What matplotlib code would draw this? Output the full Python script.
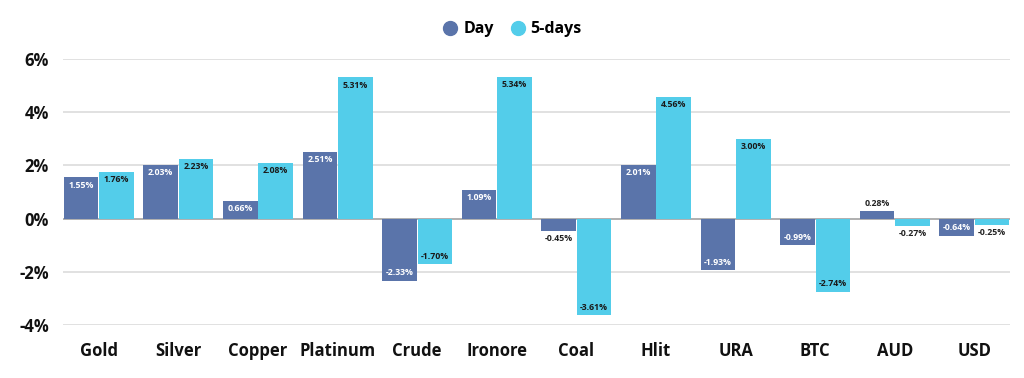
import numpy as np
import matplotlib.pyplot as plt
from matplotlib.lines import Line2D

categories = ["Gold", "Silver", "Copper", "Platinum", "Crude", "Ironore",
              "Coal", "Hlit", "URA", "BTC", "AUD", "USD"]
day = [1.55, 2.03, 0.66, 2.51, -2.33, 1.09, -0.45, 2.01, -1.93, -0.99, 0.28, -0.64]
five_days = [1.76, 2.23, 2.08, 5.31, -1.70, 5.34, -3.61, 4.56, 3.00, -2.74, -0.27, -0.25]
yticks = [-4, -2, 0, 2, 4, 6]

c_day = "#5a74aa"
c_five = "#53cdea"
font = "Open Sans"

fig = plt.figure(figsize=(10.24, 3.78), dpi=100)
ax = fig.add_axes([0.0615, 0.14, 0.925, 0.704])

x = np.arange(len(categories))
w = 0.435
off = 0.222

b1 = ax.bar(x - off, day, w, color=c_day, zorder=3)
b2 = ax.bar(x + off, five_days, w, color=c_five, zorder=3)


def label(bars, vals, inside_color):
    for b, v in zip(bars, vals):
        cx = b.get_x() + b.get_width() / 2
        txt = f"{v:.2f}%"
        if abs(v) >= 0.5:
            if v > 0:
                ax.text(cx, v - 0.12, txt, ha="center", va="top", fontsize=6.3,
                        fontweight="bold", color=inside_color, family=font, zorder=4)
            else:
                ax.text(cx, v + 0.12, txt, ha="center", va="bottom", fontsize=6.3,
                        fontweight="bold", color=inside_color, family=font, zorder=4)
        else:
            if v > 0:
                ax.text(cx, v + 0.12, txt, ha="center", va="bottom", fontsize=6.3,
                        fontweight="bold", color="#222222", family=font, zorder=4)
            else:
                ax.text(cx, v - 0.12, txt, ha="center", va="top", fontsize=6.3,
                        fontweight="bold", color="#222222", family=font, zorder=4)


label(b1, day, "white")
label(b2, five_days, "#1a1a1a")

ax.set_xlim(-0.45, len(categories) - 0.55)
ax.set_ylim(-4, 6)
ax.set_yticks(yticks)
ax.set_yticklabels([f"{t}%" for t in yticks])
ax.set_xticks(x)
ax.set_xticklabels(categories)
for t in ax.get_xticklabels() + ax.get_yticklabels():
    t.set_family(font)
    t.set_fontweight("bold")
    t.set_fontsize(12)
    t.set_color("#111111")

ax.grid(axis="y", color="#dcdcdc", linewidth=1.2, zorder=0)
ax.axhline(0, color="#a8a8a8", linewidth=1.2, zorder=2)
ax.tick_params(length=0, pad=10)
ax.tick_params(axis="x", pad=12)
for s in ax.spines.values():
    s.set_visible(False)

handles = [Line2D([], [], marker="o", linestyle="", markersize=10, color=c_day),
           Line2D([], [], marker="o", linestyle="", markersize=10, color=c_five)]
fig.legend(handles, ["Day", "5-days"], loc="center", bbox_to_anchor=(0.5, 0.923),
           ncol=2, frameon=False, handlelength=1.0, handletextpad=0.3,
           columnspacing=1.0,
           prop={"family": font, "weight": "bold", "size": 11.5})

fig.savefig("out.png", dpi=100)
